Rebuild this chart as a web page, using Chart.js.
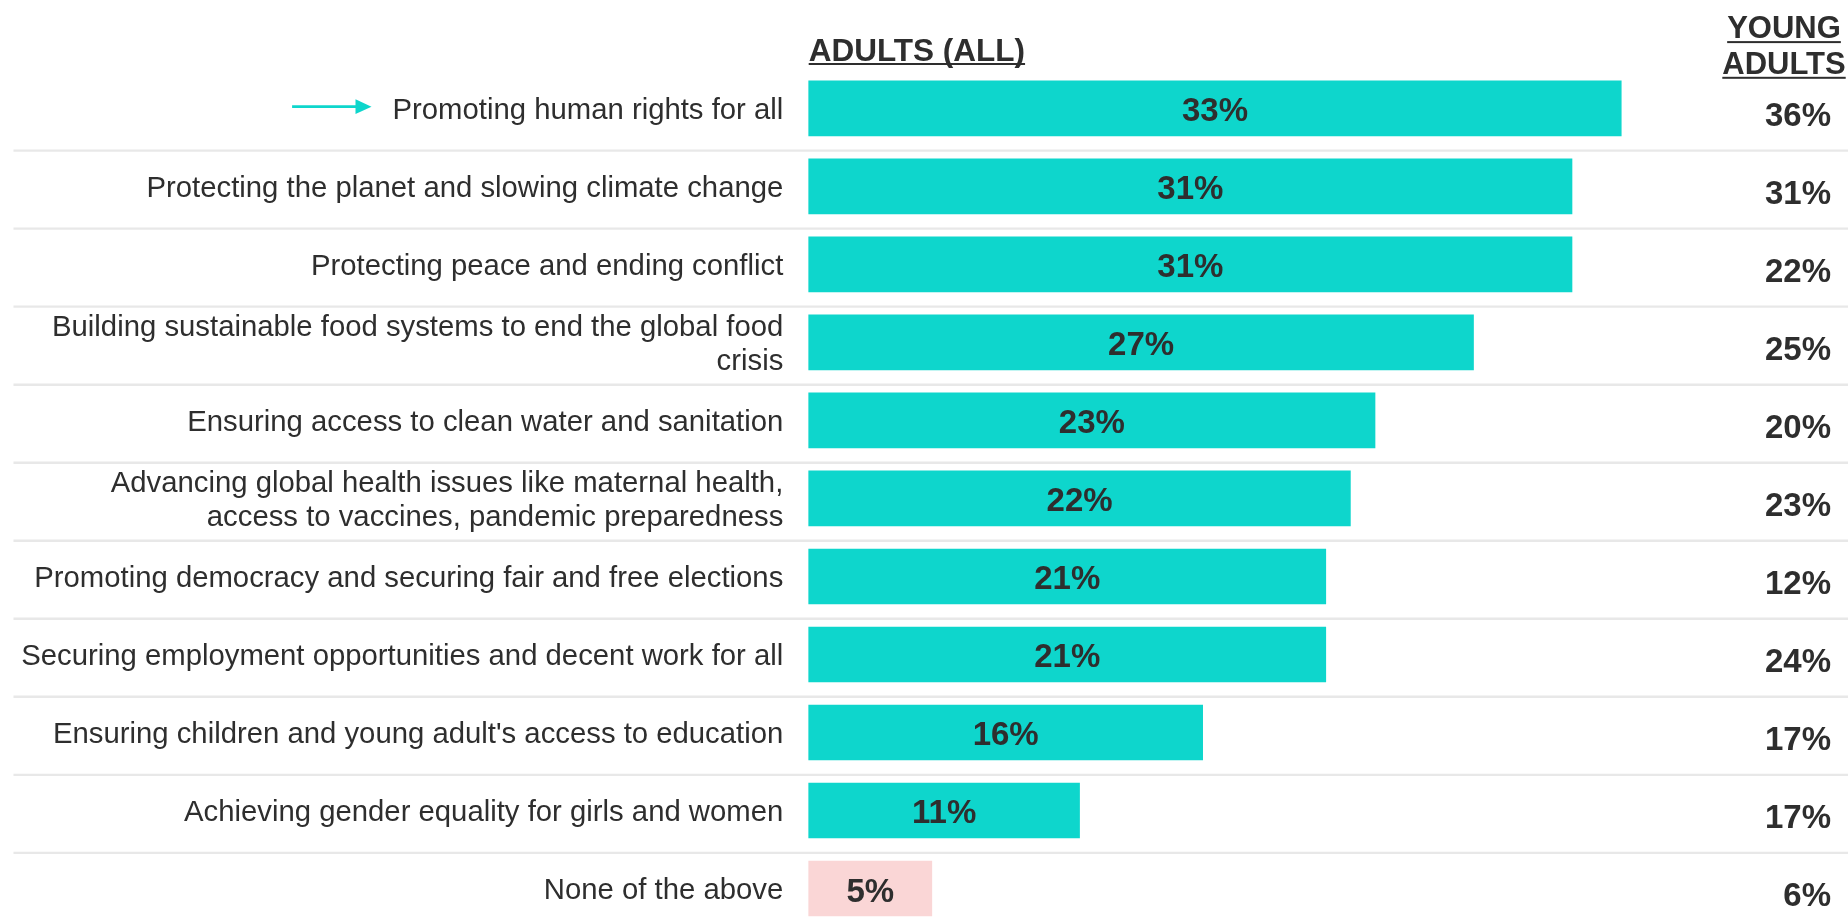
<!DOCTYPE html>
<html>
<head>
<meta charset="utf-8">
<script src="https://cdn.jsdelivr.net/npm/chart.js@4.4.1/dist/chart.umd.min.js"></script>
<style>
  html, body { margin: 0; padding: 0; background: #ffffff; }
  #wrap { width: 1848px; height: 922px; position: relative; }
</style>
</head>
<body>
<div id="wrap"><canvas id="c" width="1848" height="922"></canvas></div>
<script>
const categories = [
  "Promoting human rights for all",
  "Protecting the planet and slowing climate change",
  "Protecting peace and ending conflict",
  ["Building sustainable food systems to end the global food", "crisis"],
  "Ensuring access to clean water and sanitation",
  ["Advancing global health issues like maternal health,", "access to vaccines, pandemic preparedness"],
  "Promoting democracy and securing fair and free elections",
  "Securing employment opportunities and decent work for all",
  "Ensuring children and young adult's access to education",
  "Achieving gender equality for girls and women",
  "None of the above"
];
const adultsAll = [33, 31, 31, 27, 23, 22, 21, 21, 16, 11, 5];
const youngAdults = [36, 31, 22, 25, 20, 23, 12, 24, 17, 17, 6];
const headerAdults = "ADULTS (ALL)";
const headerYoung = ["YOUNG", "ADULTS"];

const TEAL = "rgb(14,214,204)";
const PINK = "rgb(250,214,214)";
const TEXT = "#2e2e2e";
const FONT = "'Liberation Sans', Arial, Helvetica, sans-serif";
const LABEL_SIZE = 29.3;

const barColors = categories.map((c, i) => i === categories.length - 1 ? PINK : TEAL);

const decorPlugin = {
  id: 'decor',
  beforeDatasetsDraw(chart) {
    const ctx = chart.ctx;
    const y = chart.scales.y;
    ctx.save();
    ctx.strokeStyle = "#e8e8e8";
    ctx.lineWidth = 2.3;
    for (let i = 0; i < categories.length - 1; i++) {
      const py = y.getPixelForValue(i) + 42.3;
      ctx.beginPath();
      ctx.moveTo(13.5, py);
      ctx.lineTo(1848, py);
      ctx.stroke();
    }
    ctx.restore();
  },
  afterDatasetsDraw(chart) {
    const ctx = chart.ctx;
    const meta = chart.getDatasetMeta(0);
    const xs = chart.scales.x;
    ctx.save();
    ctx.fillStyle = TEXT;
    ctx.font = "bold 33px " + FONT;
    ctx.textBaseline = "alphabetic";
    meta.data.forEach((bar, i) => {
      const cx = (bar.x + bar.base) / 2;
      ctx.textAlign = "center";
      ctx.fillText(adultsAll[i] + "%", cx, bar.y + 13);
      ctx.textAlign = "right";
      ctx.fillText(youngAdults[i] + "%", 1831, bar.y + 17.5);
    });

    // headers
    ctx.font = "bold 31.5px " + FONT;
    ctx.textAlign = "left";
    const hx = xs.getPixelForValue(0);
    ctx.fillText(headerAdults, hx, 60.5);
    let w = ctx.measureText(headerAdults).width;
    ctx.fillRect(hx, 63, w, 2);

    ctx.font = "bold 31px " + FONT;
    ctx.textAlign = "center";
    const yc = 1784;
    const ybase = [38.3, 74];
    headerYoung.forEach((t, k) => {
      ctx.fillText(t, yc, ybase[k]);
      const tw = ctx.measureText(t).width;
      ctx.fillRect(yc - tw / 2, ybase[k] + 2.8, tw, 2);
    });

    // arrow before first label
    ctx.font = LABEL_SIZE + "px " + FONT;
    const lw = ctx.measureText(categories[0]).width;
    const labelLeft = 783.3 - lw;
    const tip = labelLeft - 21;
    const ay = chart.scales.y.getPixelForValue(0) - 1.7;
    ctx.strokeStyle = TEAL;
    ctx.fillStyle = TEAL;
    ctx.lineWidth = 2.7;
    ctx.beginPath();
    ctx.moveTo(tip - 79.4, ay);
    ctx.lineTo(tip - 15, ay);
    ctx.stroke();
    ctx.beginPath();
    ctx.moveTo(tip - 16, ay - 7.4);
    ctx.lineTo(tip, ay);
    ctx.lineTo(tip - 16, ay + 7.4);
    ctx.closePath();
    ctx.fill();
    ctx.restore();
  }
};

new Chart(document.getElementById('c'), {
  type: 'bar',
  data: {
    labels: categories,
    datasets: [{
      data: adultsAll,
      backgroundColor: barColors,
      borderWidth: 0,
      barThickness: 55,
      clip: false
    }]
  },
  options: {
    indexAxis: 'y',
    responsive: false,
    animation: false,
    devicePixelRatio: 1,
    layout: { padding: { top: 108.4, bottom: 33.5, left: 0, right: 54.4 } },
    plugins: {
      legend: { display: false },
      tooltip: { enabled: false },
      title: { display: false }
    },
    scales: {
      x: { min: 0, max: 40, display: false },
      y: {
        offset: false,
        grid: { display: false, drawTicks: false },
        border: { display: false },
        ticks: {
          color: TEXT,
          padding: 25.4,
          labelOffset: 2.5,
          font: { family: FONT, size: LABEL_SIZE, lineHeight: 1.15 },
          autoSkip: false
        },
        afterFit(scale) {
          scale.width = 808.7;
          scale.paddingTop = 0;
          scale.paddingBottom = 0;
        }
      }
    }
  },
  plugins: [decorPlugin]
});
</script>
</body>
</html>
